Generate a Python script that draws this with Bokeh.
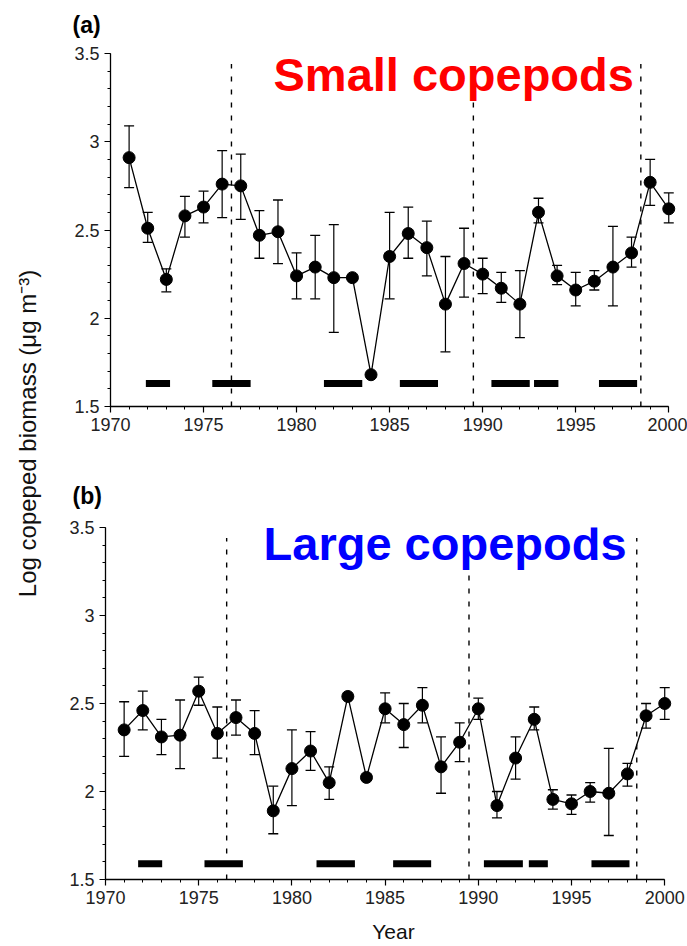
import math
from bokeh.plotting import figure
from bokeh.layouts import row, column
from bokeh.models import (Label, SingleIntervalTicker, CustomJSTickFormatter,
                          ColumnDataSource, Range1d)
from bokeh.embed import file_html
from bokeh.resources import INLINE

nan = float("nan")

years = list(range(1971, 2001))

small_mean = [2.91, 2.51, 2.22, 2.58, 2.63, 2.76, 2.75, 2.47, 2.49, 2.24,
              2.29, 2.23, 2.23, 1.68, 2.35, 2.48, 2.40, 2.08, 2.31, 2.25,
              2.17, 2.08, 2.60, 2.24, 2.16, 2.21, 2.29, 2.37, 2.77, 2.62]
small_upper = [3.09, 2.60, 2.28, 2.69, 2.72, 2.95, 2.93, 2.61, 2.67, 2.37,
               2.47, 2.53, nan, nan, 2.60, 2.63, 2.55, 2.35, 2.51, 2.34,
               2.26, 2.27, 2.68, 2.30, 2.26, 2.27, 2.52, 2.46, 2.90, 2.71]
small_lower = [2.74, 2.43, 2.15, 2.46, 2.54, 2.57, 2.56, 2.34, 2.31, 2.11,
               2.11, 1.92, nan, nan, 2.11, 2.34, 2.24, 1.81, 2.12, 2.14,
               2.09, 1.89, 2.54, 2.19, 2.07, 2.16, 2.07, 2.29, 2.64, 2.54]

large_mean = [2.35, 2.46, 2.31, 2.32, 2.57, 2.33, 2.42, 2.33, 1.89, 2.13,
              2.23, 2.05, 2.54, 2.08, 2.47, 2.38, 2.49, 2.14, 2.28, 2.47,
              1.92, 2.19, 2.41, 1.955, 1.93, 2.00, 1.99, 2.10, 2.43, 2.50]
large_upper = [2.51, 2.57, 2.41, 2.52, 2.65, 2.48, 2.52, 2.46, 2.03, 2.35,
               2.34, 2.14, nan, nan, 2.56, 2.50, 2.59, 2.31, 2.39, 2.53,
               2.00, 2.31, 2.48, 2.01, 1.98, 2.05, 2.245, 2.16, 2.50, 2.59]
large_lower = [2.20, 2.35, 2.21, 2.13, 2.49, 2.19, 2.32, 2.21, 1.76, 1.92,
               2.12, 1.955, nan, nan, 2.39, 2.25, 2.39, 1.99, 2.17, 2.41,
               1.85, 2.07, 2.35, 1.90, 1.87, 1.94, 1.75, 2.03, 2.36, 2.41]

small_bar_start = [1971.9, 1975.47, 1981.47, 1985.55, 1990.47, 1992.76, 1996.25]
small_bar_end = [1973.2, 1977.53, 1983.53, 1987.6, 1992.53, 1994.07, 1998.3]
large_bar_start = [1971.75, 1975.31, 1981.32, 1985.43, 1990.30, 1992.71, 1996.07]
large_bar_end = [1973.04, 1977.37, 1983.38, 1987.47, 1992.39, 1993.73, 1998.11]

regime_shifts = [1976.5, 1989.5, 1998.5]

FONT = "Liberation Sans"
COL_W = 641
LAB_W = 46


def blank(width, height):
    f = figure(width=width, height=height, output_backend="svg",
               toolbar_location=None, x_range=Range1d(0, width),
               y_range=Range1d(0, height), min_border=0, min_border_left=0,
               min_border_right=0, min_border_top=0, min_border_bottom=0)
    f.axis.visible = False
    f.grid.visible = False
    f.outline_line_color = None
    f.background_fill_color = "white"
    f.border_fill_color = "white"
    f.frame_align = False
    return f


def header(letter, height, top):
    h = blank(COL_W, height)
    h.add_layout(Label(x=72 - LAB_W, y=height - top, text=letter, text_font=FONT,
                       text_font_style="bold", text_font_size="23px",
                       text_color="black", text_baseline="top"))
    return h


def make_panel(mean, upper, lower, bstart, bend, bar_y, title, tcolor,
               tx, ty, height, border_left, border_right,
               border_top, border_bottom, show_xlabel):
    p = figure(width=COL_W, height=height, output_backend="svg",
               toolbar_location=None, x_range=Range1d(1970, 2000.9),
               y_range=Range1d(1.5, 3.5), min_border_left=border_left,
               min_border_right=border_right, min_border_top=border_top,
               min_border_bottom=border_bottom)
    p.frame_align = False
    p.outline_line_color = None
    p.xgrid.visible = False
    p.ygrid.visible = False
    p.background_fill_color = "white"
    p.border_fill_color = "white"

    for ax in (p.xaxis[0], p.yaxis[0]):
        ax.axis_line_width = 1.3
        ax.axis_line_color = "black"
        ax.major_tick_line_color = "black"
        ax.minor_tick_line_color = "black"
        ax.major_tick_line_width = 1.2
        ax.minor_tick_line_width = 1.0
        ax.major_tick_out = 6
        ax.major_tick_in = 0
        ax.minor_tick_out = 3
        ax.minor_tick_in = 0
        ax.major_label_text_font = FONT
        ax.major_label_text_font_size = "18px"
        ax.major_label_text_color = "#222222"

    p.xaxis.ticker = SingleIntervalTicker(interval=5, num_minor_ticks=5)
    p.xaxis.bounds = (1970, 2000)
    p.yaxis.ticker = SingleIntervalTicker(interval=0.5, num_minor_ticks=5)
    p.yaxis.bounds = (1.5, 3.5)
    p.yaxis.formatter = CustomJSTickFormatter(code="return String(Math.round(tick*10)/10);")
    if show_xlabel:
        p.xaxis.axis_label = "Year"
        p.xaxis.axis_label_text_font = FONT
        p.xaxis.axis_label_text_font_style = "normal"
        p.xaxis.axis_label_text_font_size = "21px"
        p.xaxis.axis_label_text_color = "#111111"
        p.xaxis.axis_label_standoff = 13

    # regime shift lines
    p.segment(x0=regime_shifts, x1=regime_shifts,
              y0=[1.5] * len(regime_shifts), y1=[3.44] * len(regime_shifts),
              line_color="black", line_width=1.4, line_dash="5 8")

    # event bars
    p.segment(x0=bstart, x1=bend, y0=[bar_y] * len(bstart), y1=[bar_y] * len(bstart),
              line_color="black", line_width=7, line_cap="butt")

    src = ColumnDataSource(dict(x=years, m=mean, u=upper, l=lower))
    p.segment(x0="x", x1="x", y0="l", y1="u", source=src,
              line_color="black", line_width=1.2)
    p.scatter(x="x", y="u", source=src, marker="dash", size=10,
              line_color="black", line_width=1.3)
    p.scatter(x="x", y="l", source=src, marker="dash", size=10,
              line_color="black", line_width=1.3)
    p.line(x="x", y="m", source=src, line_color="black", line_width=1.3)
    p.scatter(x="x", y="m", source=src, marker="circle", size=12,
              fill_color="black", line_color="black")

    p.add_layout(Label(x=tx, y=ty, text=title, text_font=FONT,
                       text_font_style="bold", text_font_size="47px",
                       text_color=tcolor, text_baseline="middle",
                       background_fill_color="white"))
    return p


hdr_a = header("(a)", 40, 11)
pa = make_panel(small_mean, small_upper, small_lower, small_bar_start,
                small_bar_end, 1.63, "Small copepods", "#ff0000",
                1978.76, 3.381, 430, 110 - LAB_W, 2, 13, 64, False)
hdr_b = header("(b)", 44, 12)
pb = make_panel(large_mean, large_upper, large_lower, large_bar_start,
                large_bar_end, 1.59, "Large copepods", "#0000ff",
                1978.48, 3.41, 432, 105 - LAB_W, 6, 13, 67, True)

lab = blank(LAB_W, 946)
lab.add_layout(Label(x=27, y=513, text="Log copeped biomass (\u03bcg m\u207b\u00b3)",
                     angle=math.pi / 2, text_align="center",
                     text_baseline="middle", text_font=FONT,
                     text_font_size="24px", text_color="#111111"))

layout = row(lab, column(hdr_a, pa, hdr_b, pb, spacing=0), spacing=0)

open("out.html", "w").write(file_html(layout, INLINE))
